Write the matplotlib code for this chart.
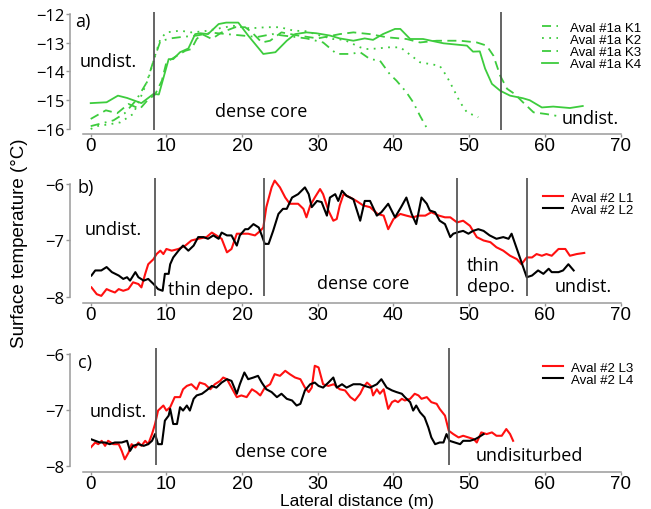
import matplotlib
matplotlib.use("Agg")
import matplotlib.pyplot as plt

# ---------------- data ----------------
K1 = [(0, -15.9), (1.5, -15.8), (3.0, -15.7), (4.5, -15.45), (6.0, -15.0), (7.4, -14.38), (8.3, -13.62),
      (9.2, -12.95), (10.5, -12.85), (12, -12.8), (14, -12.75), (16, -12.65), (18, -12.7), (20, -12.75),
      (22, -12.8), (24, -12.7), (25.4, -12.75), (27, -12.8), (28.5, -12.85), (30.7, -12.99), (32.5, -13.39),
      (34.3, -13.39), (35.6, -13.33), (36.9, -13.57), (38.2, -13.62), (39.5, -14.09), (40.4, -14.32),
      (41.7, -14.72), (42.6, -15.07), (43.5, -15.54), (44.6, -16.06)]
K2 = [(0, -16.0), (0.8, -15.9), (2.6, -15.83), (3.9, -15.77), (5.6, -15.48), (6.5, -14.96), (7.6, -14.26),
      (8.5, -13.45), (9.2, -12.87), (10.0, -12.64), (11.8, -12.58), (13.3, -12.64), (15, -12.6), (17, -12.5),
      (18.8, -12.41), (21, -12.5), (23.2, -12.46), (25.0, -12.46), (26.8, -12.58), (28.5, -12.6),
      (30.3, -12.75), (32, -12.87), (33.5, -12.9), (35.6, -13.16), (36.4, -13.22), (38, -13.2), (39.1, -13.16),
      (40.9, -13.16), (43.5, -13.68), (46.1, -13.8), (47.0, -14.15), (47.9, -14.6), (48.8, -15.07),
      (49.7, -15.42), (51.2, -15.59)]
K3 = [(0, -15.65), (1.0, -15.5), (2.0, -15.35), (3.5, -15.45), (5.0, -15.13), (6.5, -15.3), (7.5, -15.0),
      (8.5, -14.8), (9.4, -14.32), (10.0, -13.68), (11.4, -13.45), (12.5, -13.28), (13.3, -13.22),
      (14.0, -12.87), (14.7, -12.7), (16.0, -12.87), (17.3, -12.64), (19.1, -12.46), (20.4, -12.46),
      (21.3, -12.64), (22.6, -12.99), (23.7, -12.93), (25.2, -12.64), (27.4, -12.75), (30.0, -12.85),
      (32.9, -12.7), (34.7, -12.64), (36.9, -12.7), (39.1, -12.81), (41.7, -12.87), (43.5, -12.99),
      (45.7, -12.93), (48.8, -12.93), (51.0, -12.99), (52.3, -13.1), (53.2, -13.45), (54.1, -14.15),
      (55.0, -14.6), (56.0, -14.78), (57.1, -15.07), (58.5, -15.42), (60.2, -15.48), (61.5, -15.54)]
K4 = [(0, -15.1), (2.1, -15.07), (3.6, -14.84), (4.8, -14.92), (6.7, -15.1), (8.3, -14.78), (9.0, -14.8),
      (10.3, -13.57), (10.9, -13.57), (11.8, -13.33), (12.9, -13.2), (13.8, -12.7), (14.5, -12.67),
      (15.5, -12.7), (16.9, -12.35), (17.9, -12.3), (19.5, -12.3), (20.8, -12.75), (22.8, -13.39),
      (24.4, -13.33), (25.9, -12.93), (27.0, -12.7), (28.5, -12.64), (29.8, -12.67), (31.6, -12.75),
      (32.9, -12.85), (34.7, -12.93), (36.2, -12.85), (37.3, -12.9), (38.6, -12.7), (40.2, -12.52),
      (40.9, -12.52), (42.2, -12.87), (43.9, -12.87), (46.6, -13.02), (49.7, -13.1), (50.5, -13.31),
      (51.4, -13.3), (52.1, -13.9), (53.0, -14.43), (54.1, -14.67), (55.4, -14.84), (57.1, -14.93),
      (58.0, -15.0), (59.6, -15.25), (61.1, -15.22), (63.3, -15.27), (65.0, -15.2)]

L1 = [(0.1, -7.83), (0.8, -7.95), (1.4, -7.98), (2.1, -7.86), (2.6, -7.89), (3.2, -7.92), (3.7, -7.86),
      (4.3, -7.89), (4.97, -7.86), (5.6, -7.74), (6.3, -7.77), (6.7, -7.83), (7.2, -7.59), (7.6, -7.42),
      (8.3, -7.33), (8.7, -7.24), (9.2, -7.18), (9.6, -7.24), (10.0, -7.15), (10.7, -7.18), (11.6, -7.15),
      (12.5, -7.09), (13.3, -7.00), (14.2, -6.97), (15.3, -6.94), (16.0, -6.86), (16.6, -6.91), (17.3, -6.97),
      (18.0, -7.21), (18.6, -7.15), (19.3, -6.88), (19.9, -6.88), (20.8, -6.88), (21.7, -6.91), (22.4, -6.83),
      (22.8, -6.77), (23.2, -6.41), (23.9, -6.06), (24.3, -5.94), (25.0, -6.06), (25.7, -6.24), (26.3, -6.35),
      (27.4, -6.35), (28.1, -6.44), (28.5, -6.59), (29.0, -6.38), (29.6, -6.24), (30.3, -6.09), (30.7, -6.18),
      (31.4, -6.47), (32.05, -6.65), (32.5, -6.62), (32.9, -6.38), (33.4, -6.18), (34.3, -6.24), (35.1, -6.30),
      (36.0, -6.38), (36.9, -6.41), (37.9, -6.53), (38.7, -6.56), (39.3, -6.80), (40.0, -6.62), (40.9, -6.53),
      (41.7, -6.56), (42.6, -6.59), (43.3, -6.56), (44.2, -6.56), (45.0, -6.50), (46.0, -6.56), (46.8, -6.59),
      (47.5, -6.59), (48.4, -6.68), (49.2, -6.65), (50.1, -6.74), (51.0, -6.94), (51.9, -7.00), (52.8, -7.03),
      (53.6, -7.12), (54.5, -7.18), (55.4, -7.27), (56.3, -7.33), (56.9, -7.42), (57.6, -7.30), (58.3, -7.30),
      (58.9, -7.24), (59.6, -7.27), (60.2, -7.24), (60.9, -7.27), (61.8, -7.15), (62.7, -7.15), (63.3, -7.27),
      (64.2, -7.24), (65.2, -7.22)]
L2 = [(0.1, -7.62), (0.6, -7.53), (1.4, -7.53), (2.1, -7.47), (2.8, -7.56), (3.7, -7.62), (4.3, -7.68),
      (4.8, -7.65), (5.2, -7.71), (5.9, -7.56), (6.3, -7.65), (7.0, -7.71), (7.6, -7.68), (8.3, -7.77),
      (8.9, -7.86), (9.5, -7.89), (9.8, -7.59), (10.3, -7.59), (10.5, -7.42), (10.9, -7.30), (11.6, -7.18),
      (12.2, -7.09), (12.9, -7.18), (13.6, -7.09), (14.2, -6.94), (14.9, -6.94), (15.5, -6.97), (16.2, -6.91),
      (16.9, -6.97), (17.3, -6.86), (18.0, -6.91), (18.6, -6.91), (19.3, -7.09), (19.7, -6.91), (20.4, -6.80),
      (20.8, -6.80), (21.5, -6.71), (22.2, -6.77), (22.6, -6.91), (23.0, -7.06), (23.5, -7.06), (24.1, -6.83),
      (24.8, -6.53), (25.4, -6.44), (25.9, -6.44), (26.6, -6.24), (27.4, -6.18), (28.3, -6.06), (28.8, -6.18),
      (29.2, -6.41), (29.9, -6.30), (30.5, -6.32), (31.2, -6.56), (31.6, -6.24), (32.3, -6.18), (32.7, -6.30),
      (33.2, -6.12), (33.8, -6.21), (34.7, -6.27), (35.6, -6.65), (36.2, -6.30), (36.9, -6.30), (37.8, -6.56),
      (38.4, -6.50), (39.3, -6.35), (40.2, -6.59), (41.0, -6.41), (41.7, -6.24), (42.4, -6.53), (43.0, -6.71),
      (43.7, -6.24), (44.4, -6.35), (44.8, -6.47), (45.5, -6.50), (46.1, -6.65), (46.8, -6.71), (47.5, -6.94),
      (47.9, -6.88), (48.6, -6.85), (49.2, -6.83), (49.9, -6.88), (50.5, -6.83), (51.2, -6.80), (51.9, -6.83),
      (52.7, -6.91), (53.6, -6.97), (54.5, -6.94), (55.2, -6.97), (55.6, -6.88), (56.3, -7.15), (57.0, -7.42),
      (57.6, -7.65), (58.3, -7.62), (59.1, -7.53), (59.8, -7.59), (60.5, -7.50), (60.9, -7.56), (61.8, -7.56),
      (62.4, -7.53), (63.1, -7.42), (63.8, -7.53)]

L3 = [(0.0, -7.67), (0.6, -7.58), (1.0, -7.61), (1.45, -7.55), (1.9, -7.64), (2.3, -7.55), (3.0, -7.61),
      (3.7, -7.61), (4.1, -7.73), (4.5, -7.88), (5.0, -7.76), (5.4, -7.61), (5.9, -7.67), (6.3, -7.58),
      (6.7, -7.64), (7.2, -7.55), (7.6, -7.61), (8.1, -7.43), (8.5, -7.25), (8.9, -7.01), (9.6, -6.92),
      (10.0, -7.01), (10.5, -6.95), (11.1, -6.77), (11.8, -6.77), (12.2, -6.63), (12.7, -6.57), (13.3, -6.54),
      (14.0, -6.63), (14.4, -6.51), (15.1, -6.54), (15.8, -6.63), (16.4, -6.54), (17.1, -6.48), (17.5, -6.42),
      (18.0, -6.45), (18.6, -6.60), (19.3, -6.77), (19.9, -6.74), (20.6, -6.77), (21.3, -6.63), (21.9, -6.68),
      (22.4, -6.74), (23.0, -6.60), (23.7, -6.54), (24.3, -6.36), (25.0, -6.39), (25.7, -6.30), (26.3, -6.36),
      (27.0, -6.42), (27.7, -6.45), (28.3, -6.60), (28.8, -6.68), (29.2, -6.60), (29.6, -6.21), (30.1, -6.24),
      (30.7, -6.54), (31.4, -6.57), (32.1, -6.54), (32.9, -6.63), (33.6, -6.65), (34.3, -6.77), (34.9, -6.83),
      (35.6, -6.71), (36.0, -6.60), (36.5, -6.51), (37.0, -6.57), (37.3, -6.74), (37.8, -6.63), (38.2, -6.71),
      (38.7, -6.63), (39.3, -6.98), (39.8, -6.86), (40.2, -6.83), (40.6, -6.86), (41.1, -6.80), (41.5, -6.83),
      (42.2, -6.80), (42.8, -6.71), (43.3, -6.74), (43.7, -6.80), (44.4, -6.77), (45.0, -6.86), (45.7, -6.89),
      (46.1, -6.98), (46.8, -7.10), (47.3, -7.37), (47.9, -7.43), (48.6, -7.49), (49.2, -7.46), (49.9, -7.49),
      (50.6, -7.52), (51.0, -7.58), (51.6, -7.40), (52.3, -7.43), (53.0, -7.40), (53.6, -7.46), (54.3, -7.46),
      (54.9, -7.34), (55.4, -7.43), (55.8, -7.55)]
L4 = [(0.0, -7.52), (0.6, -7.55), (1.2, -7.58), (1.9, -7.58), (2.5, -7.61), (3.2, -7.58), (4.1, -7.58),
      (4.8, -7.55), (5.2, -7.73), (5.6, -7.64), (6.3, -7.61), (7.0, -7.64), (7.6, -7.61), (8.1, -7.55),
      (8.5, -7.43), (8.9, -7.61), (9.4, -7.61), (9.8, -7.19), (10.3, -7.10), (10.5, -6.98), (10.9, -7.25),
      (11.4, -7.25), (11.8, -6.95), (12.2, -7.01), (12.7, -6.92), (13.1, -7.01), (13.6, -6.80), (14.0, -6.74),
      (14.7, -6.71), (15.3, -6.65), (16.0, -6.57), (16.6, -6.60), (17.3, -6.51), (18.0, -6.45), (18.6, -6.48),
      (19.3, -6.71), (19.7, -6.54), (20.3, -6.33), (20.8, -6.45), (21.5, -6.42), (22.1, -6.39), (22.6, -6.51),
      (23.2, -6.63), (23.9, -6.68), (24.6, -6.77), (25.2, -6.71), (25.9, -6.80), (26.6, -6.83), (27.2, -6.92),
      (27.7, -6.89), (28.3, -6.65), (29.0, -6.54), (29.6, -6.51), (30.1, -6.57), (30.7, -6.60), (31.4, -6.51),
      (32.05, -6.42), (32.5, -6.60), (33.2, -6.54), (33.8, -6.60), (34.7, -6.54), (35.6, -6.54), (36.2, -6.57),
      (36.9, -6.60), (37.8, -6.54), (38.4, -6.45), (39.1, -6.60), (39.8, -6.65), (40.4, -6.68), (41.1, -6.71),
      (41.5, -6.77), (42.2, -6.86), (42.6, -7.01), (43.0, -6.92), (43.5, -7.04), (44.1, -7.13), (44.6, -7.31),
      (45.0, -7.49), (45.5, -7.61), (46.1, -7.58), (46.6, -7.58), (47.0, -7.43), (47.4, -7.55), (48.1, -7.58),
      (48.8, -7.61), (49.2, -7.55), (50.1, -7.55), (50.8, -7.52), (51.2, -7.49), (51.9, -7.43)]

labels_a = ["Aval #1a K1", "Aval #1a K2", "Aval #1a K3", "Aval #1a K4"]
labels_b = ["Aval #2 L1", "Aval #2 L2"]
labels_c = ["Aval #2 L3", "Aval #2 L4"]
bounds_a = [8.3, 54.2]
bounds_b = [8.5, 22.9, 48.4, 57.7]
bounds_c = [8.6, 47.3]
xticks = [0, 10, 20, 30, 40, 50, 60, 70]
yticks_a = [-16, -15, -14, -13, -12]
yticks_bc = [-8, -7, -6]

# ---------------- style ----------------
W, H = 651, 510
fig = plt.figure(figsize=(W / 100, H / 100), dpi=100)
GREEN = "#3dcc3d"
SPINE = "#9a9a9a"
VLINE = "#4a4a4a"
TXT_FONT = ["Open Sans", "DejaVu Sans"]
LEG_FONT = ["Liberation Sans", "DejaVu Sans"]

def make_axes(top_px, bot_px, ylim, yticks):
    left = 90.7 / W
    width = (620.6 - 90.7) / W
    ax = fig.add_axes([left, 1 - bot_px / H, width, (bot_px - top_px) / H])
    ax.set_xlim(0, 70)
    ax.set_ylim(*ylim)
    for s in ["top", "right"]:
        ax.spines[s].set_visible(False)
    ax.spines["left"].set_position(("outward", 20.7 * 0.72))
    ax.spines["left"].set_bounds(yticks[0], yticks[-1])
    ax.spines["bottom"].set_bounds(-1, 70)
    for s in ["left", "bottom"]:
        ax.spines[s].set_color(SPINE)
        ax.spines[s].set_linewidth(1.1)
    ax.set_xticks(xticks)
    ax.set_yticks(yticks)
    ax.set_xticklabels([str(v) for v in xticks], fontsize=13.5, family=LEG_FONT)
    ax.set_yticklabels([str(v).replace("-", "\u2212") for v in yticks], fontsize=12, family=TXT_FONT)
    ax.tick_params(axis="x", direction="out", length=2.5, width=1, color=SPINE, pad=0)
    ax.tick_params(axis="y", direction="out", length=3, width=1, color=SPINE, pad=1)
    ax.patch.set_alpha(0)
    return ax

def xy(series):
    return [p[0] for p in series], [p[1] for p in series]

LEG_PROP = {"family": LEG_FONT, "size": 9.5}

# ---------------- panel a ----------------
axa = make_axes(12.1, 134.9, (-16.17, -11.9), yticks_a)
styles_a = [(0, (5, 3, 1, 3)), (0, (1, 3)), (0, (5, 3)), "-"]
for ser, ls, lab in zip([K1, K2, K3, K4], styles_a, labels_a):
    x, y = xy(ser)
    axa.plot(x, y, color=GREEN, lw=1.3, ls=ls, label=lab, clip_on=False)
axa.vlines(bounds_a, -16.03, -11.92, color=VLINE, lw=1.2)
axa.legend(loc="upper left", bbox_to_anchor=(542 / W, 1 - 22.5 / H), bbox_transform=fig.transFigure,
           frameon=False, prop=LEG_PROP, borderpad=0, borderaxespad=0,
           handlelength=1.25, handletextpad=0.9, labelspacing=0.0)
tk = dict(fontsize=13, family=TXT_FONT, va="center", ha="left")
axa.text(-2.0, -12.25, "a)", **tk)
axa.text(-1.5, -13.62, "undist.", **tk)
axa.text(16.4, -15.36, "dense core", **tk)
axa.text(62.2, -15.62, "undist.", **tk)

# ---------------- panel b ----------------
axb = make_axes(176.5, 304, (-8.106, -5.85), yticks_bc)
for ser, c, lab in zip([L1, L2], ["#ff1010", "black"], labels_b):
    x, y = xy(ser)
    axb.plot(x, y, color=c, lw=1.5, label=lab)
axb.vlines(bounds_b, -7.98, -5.89, color=VLINE, lw=1.2)
axb.legend(loc="upper left", bbox_to_anchor=(542.7 / W, 1 - 192.5 / H), bbox_transform=fig.transFigure,
           frameon=False, prop=LEG_PROP, borderpad=0, borderaxespad=0,
           handlelength=1.55, handletextpad=0.6, labelspacing=0.0)
axb.text(-1.8, -6.05, "b)", **tk)
axb.text(-0.75, -6.80, "undist.", **tk)
axb.text(10.25, -7.86, "thin depo.", **tk)
axb.text(29.9, -7.75, "dense core", **tk)
axb.text(49.7, -7.62, "thin\ndepo.", linespacing=1.15, **tk)
axb.text(61.3, -7.80, "undist.", **tk)

# ---------------- panel c ----------------
axc = make_axes(346.6, 473, (-8.107, -5.85), yticks_bc)
for ser, c, lab in zip([L3, L4], ["#ff1010", "black"], labels_c):
    x, y = xy(ser)
    axc.plot(x, y, color=c, lw=1.5, label=lab)
axc.vlines(bounds_c, -7.99, -5.89, color=VLINE, lw=1.2)
axc.legend(loc="upper left", bbox_to_anchor=(542.7 / W, 1 - 362.5 / H), bbox_transform=fig.transFigure,
           frameon=False, prop=LEG_PROP, borderpad=0, borderaxespad=0,
           handlelength=1.55, handletextpad=0.6, labelspacing=0.0)
axc.text(-1.7, -6.15, "c)", **tk)
axc.text(-0.2, -7.01, "undist.", **tk)
axc.text(19.1, -7.74, "dense core", **tk)
axc.text(50.8, -7.80, "undisiturbed", **tk)

# ---------------- axis labels ----------------
fig.text(356.7 / W, 0.8 / H, "Lateral distance (m)", ha="center", va="bottom",
         fontsize=12.5, family=LEG_FONT)
fig.text(20 / W, 1 - 243 / H, "Surface temperature (°C)", ha="center", va="center",
         rotation=90, fontsize=13.5, family=LEG_FONT)

fig.savefig("out.png", dpi=100)
